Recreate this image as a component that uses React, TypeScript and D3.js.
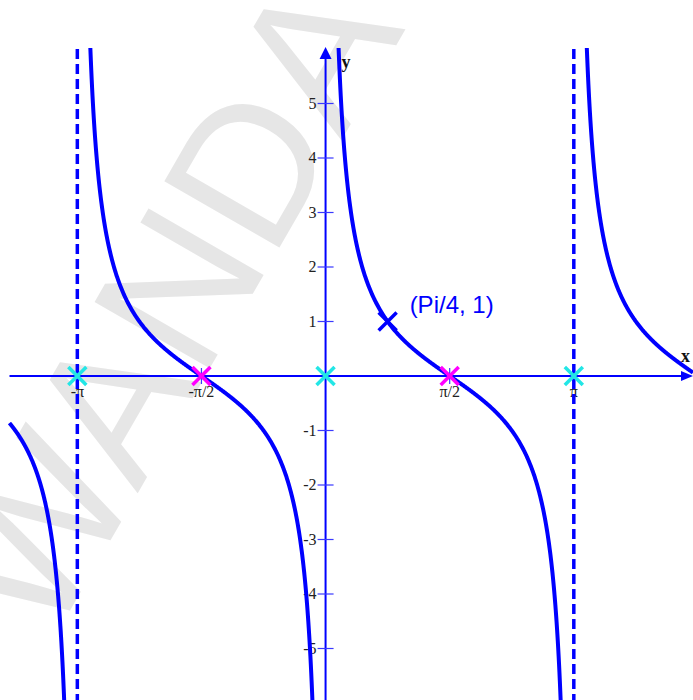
import React, { useEffect, useRef } from "react";
import * as d3 from "d3";

// plotted function and its view window
const cot = (x: number) => Math.cos(x) / Math.sin(x);
const xDomain = [-4, 4.65];
const yDomain = [-6, 6];

// continuous pieces of the curve (between the asymptotes)
const branches = [
  [-4, -Math.PI],
  [-Math.PI, 0],
  [0, Math.PI],
  [Math.PI, 4.65],
];
const asymptotes = [-Math.PI, Math.PI];

const xTickValues = [-Math.PI, -Math.PI / 2, Math.PI / 2, Math.PI];
const xTickLabels = ["-π", "-π/2", "π/2", "π"];
const yTickValues = [-5, -4, -3, -2, -1, 1, 2, 3, 4, 5];

const cyanPoints = [[-Math.PI, 0], [0, 0], [Math.PI, 0]];
const magentaPoints = [[-Math.PI / 2, 0], [Math.PI / 2, 0]];
const markedPoint = [Math.PI / 4, 1];
const markedLabel = "(Pi/4, 1)";

const W = 693;
const H = 700;

function CotPlot() {
  const ref = useRef<SVGSVGElement>(null);

  useEffect(() => {
    const svg = d3.select(ref.current);
    svg.selectAll("*").remove();

    const x = d3.scaleLinear().domain(xDomain).range([9.5, 693]);
    const y = d3.scaleLinear().domain(yDomain).range([703, 49]);
    const blue = "#0000ff";

    // watermark
    svg
      .append("text")
      .attr("transform", "translate(50,645) rotate(-60)")
      .attr("font-family", "Liberation Sans, Arial, sans-serif")
      .attr("font-size", 193)
      .attr("fill", "#e6e6e6")
      .text("WANDA");

    const defs = svg.append("defs");
    defs
      .append("clipPath")
      .attr("id", "plotclip")
      .append("rect")
      .attr("x", 0)
      .attr("y", y(yDomain[1]) - 1)
      .attr("width", W)
      .attr("height", H);

    // x axis
    svg
      .append("line")
      .attr("x1", x(xDomain[0]))
      .attr("x2", W - 6)
      .attr("y1", y(0))
      .attr("y2", y(0))
      .attr("stroke", blue)
      .attr("stroke-width", 2);
    svg
      .append("path")
      .attr("d", `M${W},${y(0)} L${W - 12},${y(0) - 5} L${W - 12},${y(0) + 5} Z`)
      .attr("fill", blue);

    // y axis
    svg
      .append("line")
      .attr("x1", x(0))
      .attr("x2", x(0))
      .attr("y1", H)
      .attr("y2", y(yDomain[1]) + 6)
      .attr("stroke", blue)
      .attr("stroke-width", 2);
    svg
      .append("path")
      .attr(
        "d",
        `M${x(0)},${y(yDomain[1]) - 2} L${x(0) - 6},${y(yDomain[1]) + 10} L${x(0) + 6},${y(yDomain[1]) + 10} Z`
      )
      .attr("fill", blue);

    // y ticks
    const yt = svg.append("g");
    yt.selectAll("line")
      .data(yTickValues)
      .enter()
      .append("line")
      .attr("x1", x(0) - 8)
      .attr("x2", x(0) + 8)
      .attr("y1", (d) => y(d))
      .attr("y2", (d) => y(d))
      .attr("stroke", "#3a3aff")
      .attr("stroke-width", 1.2);
    yt.selectAll("text")
      .data(yTickValues)
      .enter()
      .append("text")
      .attr("x", x(0) - 9)
      .attr("y", (d) => y(d) + 5)
      .attr("text-anchor", "end")
      .attr("font-family", "Liberation Serif, Times New Roman, serif")
      .attr("font-size", 16)
      .attr("fill", "#222")
      .text((d) => String(d));

    // x ticks
    const xt = svg.append("g");
    xt.selectAll("line")
      .data(xTickValues)
      .enter()
      .append("line")
      .attr("x1", (d) => x(d))
      .attr("x2", (d) => x(d))
      .attr("y1", y(0) - 8)
      .attr("y2", y(0) + 8)
      .attr("stroke", "#3a3aff")
      .attr("stroke-width", 1.2);
    xt.selectAll("text")
      .data(xTickValues)
      .enter()
      .append("text")
      .attr("x", (d) => x(d))
      .attr("y", y(0) + 21)
      .attr("text-anchor", "middle")
      .attr("font-family", "Liberation Serif, Times New Roman, serif")
      .attr("font-size", 16)
      .attr("fill", "#222")
      .text((d, i) => xTickLabels[i]);

    // axis names
    svg
      .append("text")
      .attr("x", 681)
      .attr("y", 362)
      .attr("font-family", "Liberation Serif, Times New Roman, serif")
      .attr("font-weight", "bold")
      .attr("font-size", 18)
      .attr("fill", "#111")
      .text("x");
    svg
      .append("text")
      .attr("x", x(0) + 16)
      .attr("y", 68)
      .attr("font-family", "Liberation Serif, Times New Roman, serif")
      .attr("font-weight", "bold")
      .attr("font-size", 18)
      .attr("fill", "#111")
      .text("y");

    // asymptotes
    svg
      .append("g")
      .selectAll("line")
      .data(asymptotes)
      .enter()
      .append("line")
      .attr("x1", (d) => x(d))
      .attr("x2", (d) => x(d))
      .attr("y1", y(yDomain[1]))
      .attr("y2", H)
      .attr("stroke", blue)
      .attr("stroke-width", 3.5)
      .attr("stroke-dasharray", "10,5");

    // curve
    const line = d3
      .line<number>()
      .x((d) => x(d))
      .y((d) => y(Math.max(-40, Math.min(40, cot(d)))));
    const cg = svg.append("g").attr("clip-path", "url(#plotclip)");
    branches.forEach(([a, b]) => {
      const n = 600;
      const eps = 0.01;
      const lo = a === -Math.PI || a === 0 || a === Math.PI ? a + eps : a;
      const hi = b === -Math.PI || b === 0 || b === Math.PI ? b - eps : b;
      const xs = d3.range(n + 1).map((i) => lo + ((hi - lo) * i) / n);
      cg.append("path")
        .attr("d", line(xs))
        .attr("fill", "none")
        .attr("stroke", blue)
        .attr("stroke-width", 4);
    });

    // markers
    const cross = (g: any, px: number, py: number, color: string, r: number) => {
      g.append("path")
        .attr("d", `M${px - r},${py - r} L${px + r},${py + r} M${px - r},${py + r} L${px + r},${py - r}`)
        .attr("stroke", color)
        .attr("stroke-width", 3.5)
        .attr("fill", "none");
    };
    const mg = svg.append("g");
    cyanPoints.forEach(([a, b]) => cross(mg, x(a), y(b), "#22e6e6", 9));
    magentaPoints.forEach(([a, b]) => cross(mg, x(a), y(b), "#ff00ff", 9));
    cross(mg, x(markedPoint[0]), y(markedPoint[1]), blue, 9);

    svg
      .append("text")
      .attr("x", x(markedPoint[0]) + 22)
      .attr("y", y(markedPoint[1]) - 9)
      .attr("font-family", "Liberation Sans, Arial, sans-serif")
      .attr("font-size", 24)
      .attr("fill", blue)
      .text(markedLabel);
  }, []);

  return (
    <svg
      ref={ref}
      width={W}
      height={H}
      style={{ position: "absolute", left: 0, top: 0, background: "#fff" }}
    />
  );
}

export default function App() {
  return <CotPlot />;
}
